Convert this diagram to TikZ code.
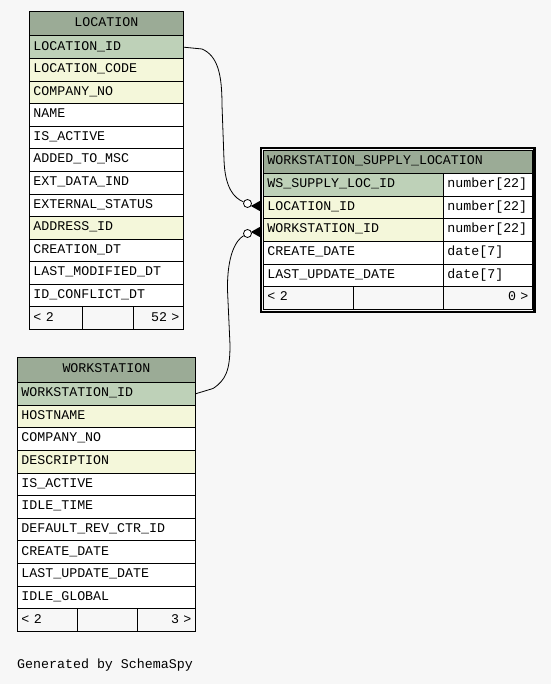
\documentclass[tikz,border=0pt]{standalone}
\usepackage{fontspec}
\newfontfamily\tf{Liberation Mono}
\definecolor{bgc}{HTML}{F7F7F7}
\definecolor{hdr}{HTML}{9BAB96}
\definecolor{pkc}{HTML}{BED1B8}
\definecolor{fkc}{HTML}{F4F7DA}
\tikzset{
  cellbase/.style={draw=black, line width=0.8pt, anchor=north west, inner sep=0pt, inner xsep=4pt,
    font=\tf\fontsize{13.3}{14}\selectfont, text height=9.3pt, text depth=3.5pt},
  cell/.style args={#1/#2/#3}{cellbase, fill=#3, minimum width=#1pt, text width=#1pt-8pt, minimum height=#2pt, align=left},
  cellc/.style args={#1/#2/#3}{cellbase, fill=#3, minimum width=#1pt, text width=#1pt-8pt, minimum height=#2pt, align=center},
  cellr/.style args={#1/#2/#3}{cellbase, fill=#3, minimum width=#1pt, text width=#1pt-8pt, minimum height=#2pt, align=right},
  conn/.style={draw=black, line width=0.8pt},
  zero/.style={circle, draw=black, line width=0.8pt, fill=white, minimum size=8pt, inner sep=0pt},
  foot/.style={draw=black, line width=1.1pt},
}
\begin{document}
\begin{tikzpicture}[x=1pt,y=-1pt]
\fill[bgc] (0,0) rectangle (551,684);
\useasboundingbox (0,0) rectangle (551,684);

% ---------- LOCATION ----------
\def\lx{29}\def\lw{154}\def\lp{22.58}
\node[cellc={\lw/24.5/hdr}] (loc-h) at (\lx,11) {LOCATION};
\foreach \i/\t/\c in {1/LOCATION\_ID/pkc, 2/LOCATION\_CODE/fkc, 3/COMPANY\_NO/fkc, 4/NAME/white,
   5/IS\_ACTIVE/white, 6/ADDED\_TO\_MSC/white, 7/EXT\_DATA\_IND/white, 8/EXTERNAL\_STATUS/white,
   9/ADDRESS\_ID/fkc, 10/CREATION\_DT/white, 11/LAST\_MODIFIED\_DT/white, 12/ID\_CONFLICT\_DT/white}
  \node[cell={\lw/\lp/\c}] (loc-\i) at (\lx,{35.5+(\i-1)*\lp}) {\t};
\node[cell={53/\lp/bgc}] (loc-fa) at (\lx,{35.5+12*\lp}) {< 2};
\node[cell={51/\lp/bgc}] (loc-fb) at (82,{35.5+12*\lp}) {};
\node[cellr={50/\lp/bgc}] (loc-fc) at (133,{35.5+12*\lp}) {52 >};

% ---------- WORKSTATION ----------
\def\wx{17}\def\ww{178}\def\wp{22.64}
\node[cellc={\ww/25/hdr}] (ws-h) at (\wx,357) {WORKSTATION};
\foreach \i/\t/\c in {1/WORKSTATION\_ID/pkc, 2/HOSTNAME/fkc, 3/COMPANY\_NO/white, 4/DESCRIPTION/fkc,
   5/IS\_ACTIVE/white, 6/IDLE\_TIME/white, 7/DEFAULT\_REV\_CTR\_ID/white, 8/CREATE\_DATE/white,
   9/LAST\_UPDATE\_DATE/white, 10/IDLE\_GLOBAL/white}
  \node[cell={\ww/\wp/\c}] (ws-\i) at (\wx,{382+(\i-1)*\wp}) {\t};
\node[cell={60/\wp/bgc}] (ws-fa) at (\wx,{382+10*\wp}) {< 2};
\node[cell={60/\wp/bgc}] (ws-fb) at (77,{382+10*\wp}) {};
\node[cellr={58/\wp/bgc}] (ws-fc) at (137,{382+10*\wp}) {3 >};

% ---------- WORKSTATION_SUPPLY_LOCATION ----------
\def\sx{263}\def\sp{22.67}
\node[cell={269/23/hdr}] (wsl-h) at (\sx,150) {WORKSTATION\_SUPPLY\_LOCATION};
\foreach \i/\t/\y/\c in {1/WS\_SUPPLY\_LOC\_ID/number[22]/pkc, 2/LOCATION\_ID/number[22]/fkc,
   3/WORKSTATION\_ID/number[22]/fkc, 4/CREATE\_DATE/date[7]/white, 5/LAST\_UPDATE\_DATE/date[7]/white}
  {\node[cell={180/\sp/\c}] (wsl-\i) at (\sx,{173+(\i-1)*\sp}) {\t};
   \node[cell={89/\sp/white}] (wsl-t\i) at (443,{173+(\i-1)*\sp}) {\y};}
\node[cell={90/\sp/bgc}] (wsl-fa) at (\sx,{173+5*\sp}) {< 2};
\node[cell={90/\sp/bgc}] (wsl-fb) at (353,{173+5*\sp}) {};
\node[cellr={89/\sp/bgc}] (wsl-fc) at (443,{173+5*\sp}) {0 >};
\draw[line width=2.2pt] (261.2,147.9) rectangle (534.5,311.6);

% ---------- connectors ----------
\node[zero] (c1) at (247.5,203.5) {};
\node[zero] (c2) at (247.5,233.5) {};
\coordinate (f1) at (252,206);
\coordinate (f2) at (252,232);
\coordinate (e1a) at (260,201.5);\coordinate (e1b) at (260,206);\coordinate (e1c) at (260,210.5);
\coordinate (e2a) at (260,227.5);\coordinate (e2b) at (260,232);\coordinate (e2c) at (260,236.5);
\draw[conn] (loc-1.east) -- (202,49) .. controls (218,56) and (222,75) .. (222,105)
   -- (224,160) .. controls (225,188) and (234,198) .. (c1);
\draw[conn] (c1) -- (f1);
\draw[foot] (f1) -- (e1a) (f1) -- (e1b) (f1) -- (e1c);
\fill (f1) -- (e1a) -- (e1c) -- cycle;
\draw[conn] (ws-1.east) -- (213,388.5) .. controls (226,380) and (230,370) .. (230,345)
   -- (227.5,290) .. controls (227,255) and (236,240) .. (c2);
\draw[conn] (c2) -- (f2);
\draw[foot] (f2) -- (e2a) (f2) -- (e2b) (f2) -- (e2c);
\fill (f2) -- (e2a) -- (e2c) -- cycle;

\node[anchor=west, inner sep=0pt, font=\tf\fontsize{13.3}{14}\selectfont] (gen) at (17,665) {Generated by SchemaSpy};
\end{tikzpicture}
\end{document}
